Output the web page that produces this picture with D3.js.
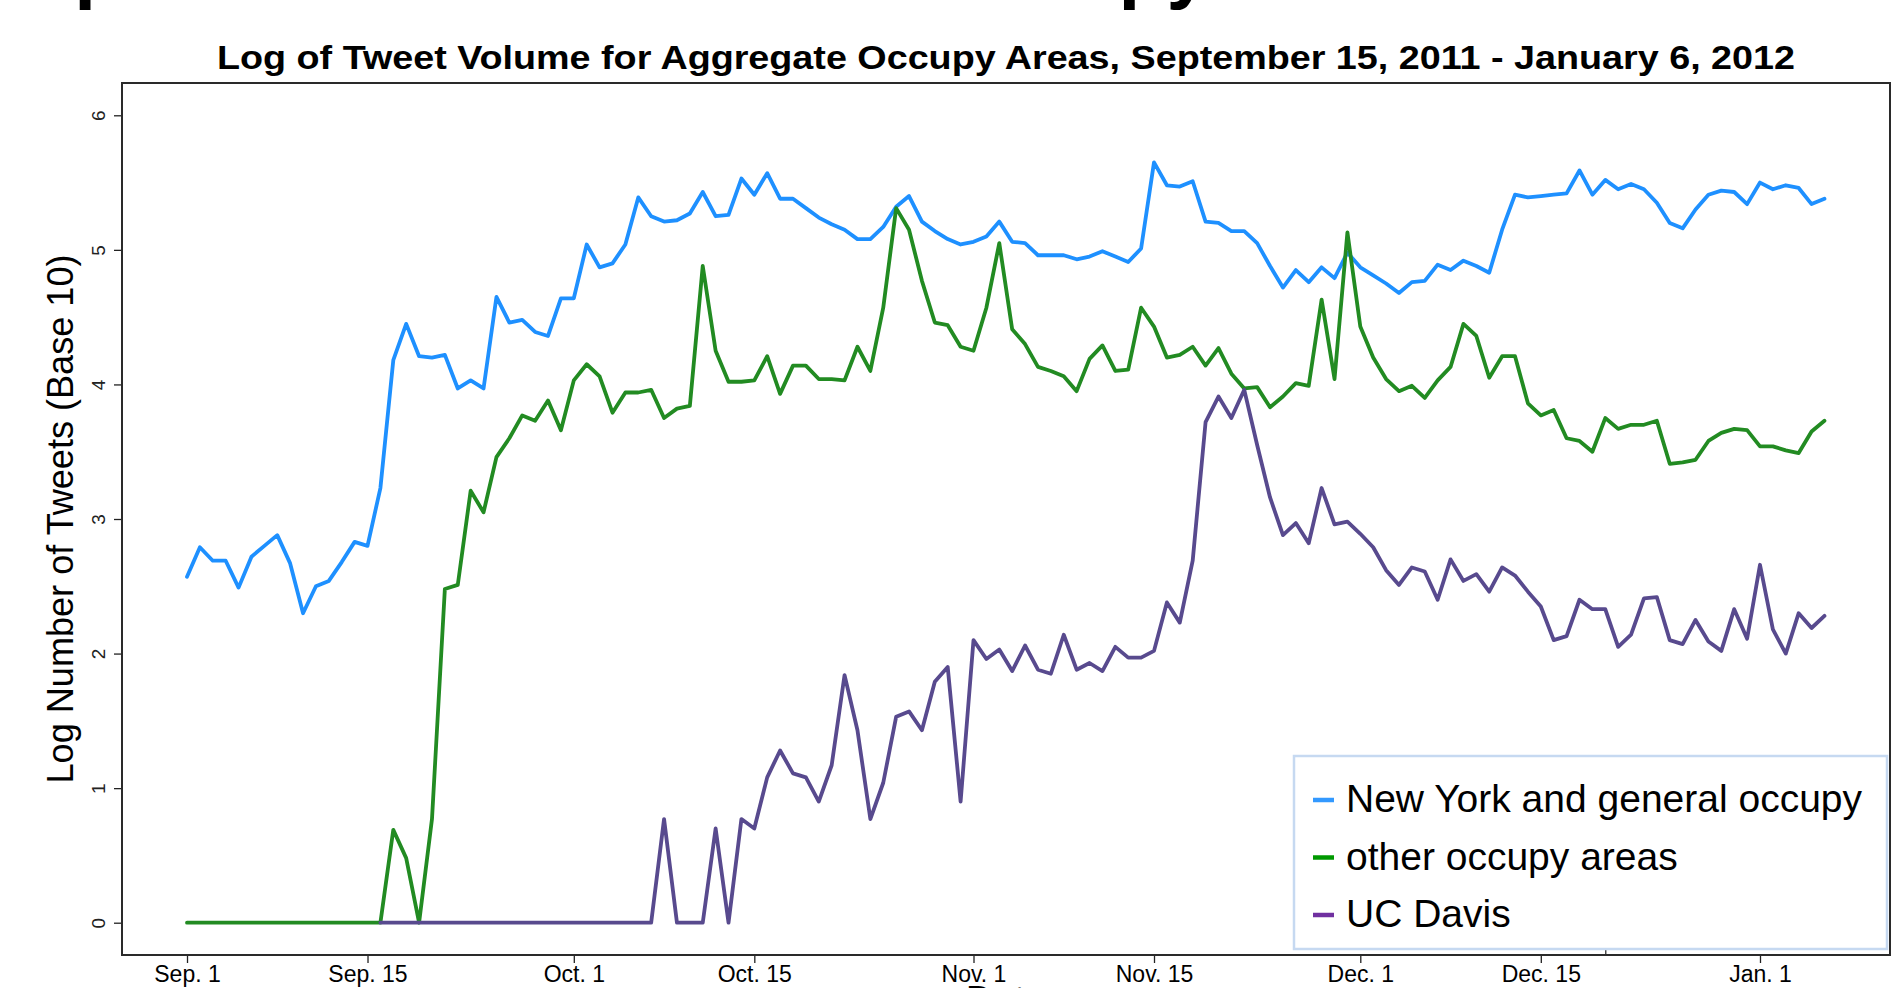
<!DOCTYPE html>
<html>
<head>
<meta charset="utf-8">
<script src="https://cdn.jsdelivr.net/npm/d3@7"></script>
<style>
  body { margin: 0; background: #fff; }
  svg { display: block; font-family: "Liberation Sans", Arial, sans-serif; }
</style>
</head>
<body>
<div id="chart"></div>
<script>

// daily values from Sep. 1, 2011 (log10 of tweet counts)
var firstDay = new Date(Date.UTC(2011, 8, 1));

var newYork = [2.57, 2.79, 2.69, 2.69, 2.49, 2.72, 2.80, 2.88, 2.67, 2.30,
  2.50, 2.54, 2.68, 2.83, 2.80, 3.23, 4.18, 4.45, 4.21, 4.20,
  4.22, 3.97, 4.03, 3.97, 4.65, 4.46, 4.48, 4.39, 4.36, 4.64,
  4.64, 5.04, 4.87, 4.90, 5.04, 5.39, 5.25, 5.21, 5.22, 5.27,
  5.43, 5.25, 5.26, 5.53, 5.41, 5.57, 5.38, 5.38, 5.31, 5.24,
  5.19, 5.15, 5.08, 5.08, 5.17, 5.32, 5.40, 5.21, 5.14, 5.08,
  5.04, 5.06, 5.10, 5.21, 5.06, 5.05, 4.96, 4.96, 4.96, 4.93,
  4.95, 4.99, 4.95, 4.91, 5.01, 5.65, 5.48, 5.47, 5.51, 5.21,
  5.20, 5.14, 5.14, 5.05, 4.88, 4.72, 4.85, 4.76, 4.87, 4.79,
  4.98, 4.87, 4.81, 4.75, 4.68, 4.76, 4.77, 4.89, 4.85, 4.92,
  4.88, 4.83, 5.15, 5.41, 5.39, 5.40, 5.41, 5.42, 5.59, 5.41,
  5.52, 5.45, 5.49, 5.45, 5.35, 5.20, 5.16, 5.30, 5.41, 5.44,
  5.43, 5.34, 5.50, 5.45, 5.48, 5.46, 5.34, 5.38];

var otherAreas = [0, 0, 0, 0, 0, 0, 0, 0, 0, 0,
  0, 0, 0, 0, 0, 0, 0.69, 0.48, 0, 0.77,
  2.48, 2.51, 3.21, 3.05, 3.46, 3.60, 3.77, 3.73, 3.88, 3.66,
  4.03, 4.15, 4.06, 3.79, 3.94, 3.94, 3.96, 3.75, 3.82, 3.84,
  4.88, 4.25, 4.02, 4.02, 4.03, 4.21, 3.93, 4.14, 4.14, 4.04,
  4.04, 4.03, 4.28, 4.10, 4.57, 5.31, 5.15, 4.77, 4.46, 4.44,
  4.28, 4.25, 4.57, 5.05, 4.41, 4.30, 4.13, 4.10, 4.06, 3.95,
  4.19, 4.29, 4.10, 4.11, 4.57, 4.43, 4.20, 4.22, 4.28, 4.14,
  4.27, 4.08, 3.97, 3.98, 3.83, 3.91, 4.01, 3.99, 4.63, 4.04,
  5.13, 4.43, 4.20, 4.04, 3.95, 3.99, 3.90, 4.03, 4.13, 4.45,
  4.36, 4.05, 4.21, 4.21, 3.86, 3.77, 3.81, 3.60, 3.58, 3.50,
  3.75, 3.67, 3.70, 3.70, 3.73, 3.41, 3.42, 3.44, 3.58, 3.64,
  3.67, 3.66, 3.54, 3.54, 3.51, 3.49, 3.65, 3.73];

// UC Davis series begins on Sep. 16
var ucDavisStart = 15;
var ucDavis = [0, 0, 0, 0, 0, 0, 0, 0, 0, 0,
  0, 0, 0, 0, 0, 0, 0, 0, 0, 0,
  0, 0, 0.77, 0, 0, 0, 0.70, 0, 0.77, 0.70,
  1.08, 1.28, 1.11, 1.08, 0.90, 1.17, 1.84, 1.43, 0.77, 1.04,
  1.53, 1.57, 1.43, 1.79, 1.90, 0.90, 2.10, 1.96, 2.03, 1.87,
  2.06, 1.88, 1.85, 2.14, 1.88, 1.93, 1.87, 2.05, 1.97, 1.97,
  2.02, 2.38, 2.23, 2.69, 3.72, 3.91, 3.75, 3.96, 3.55, 3.16,
  2.88, 2.97, 2.82, 3.23, 2.96, 2.98, 2.89, 2.79, 2.62, 2.51,
  2.64, 2.61, 2.40, 2.70, 2.54, 2.59, 2.46, 2.64, 2.58, 2.46,
  2.35, 2.10, 2.13, 2.40, 2.33, 2.33, 2.05, 2.14, 2.41, 2.42,
  2.10, 2.07, 2.25, 2.09, 2.02, 2.33, 2.11, 2.66, 2.18, 2.00,
  2.30, 2.19, 2.28];

var seriesNames = ["New York and general occupy", "other occupy areas", "UC Davis"];
var lineColors = ["#1e90ff", "#228b22", "#584a8e"];
var keyColors = ["#3399ff", "#009900", "#7030a0"];

var xTickDates = [
  new Date(Date.UTC(2011, 8, 1)), new Date(Date.UTC(2011, 8, 15)),
  new Date(Date.UTC(2011, 9, 1)), new Date(Date.UTC(2011, 9, 15)),
  new Date(Date.UTC(2011, 10, 1)), new Date(Date.UTC(2011, 10, 15)),
  new Date(Date.UTC(2011, 11, 1)), new Date(Date.UTC(2011, 11, 15)),
  new Date(Date.UTC(2012, 0, 1))];
var xTickLabels = ["Sep. 1", "Sep. 15", "Oct. 1", "Oct. 15", "Nov. 1", "Nov. 15", "Dec. 1", "Dec. 15", "Jan. 1"];
var yTicks = [0, 1, 2, 3, 4, 5, 6];

var W = 1893, H = 988;
var plot = {left: 122, top: 83, right: 1890, bottom: 955};

var svg = d3.select("#chart").append("svg")
    .attr("width", W)
    .attr("height", H);

var x = d3.scaleUtc()
    .domain([d3.utcHour.offset(firstDay, -121), d3.utcHour.offset(firstDay, 132 * 24 + 2)])
    .range([plot.left, plot.right]);

var y = d3.scaleLinear()
    .domain([-0.24, 6.24])
    .range([plot.bottom, plot.top]);

function toPoints(values, offset) {
  return values.map(function(v, i) {
    return {date: d3.utcDay.offset(firstDay, i + offset), value: v};
  });
}

var series = [toPoints(newYork, 0), toPoints(otherAreas, 0), toPoints(ucDavis, ucDavisStart)];

// cut off heading above the chart
svg.append("text")
    .attr("x", 22)
    .attr("y", -7)
    .attr("font-size", 80)
    .attr("font-weight", "bold")
    .attr("textLength", 1188)
    .attr("lengthAdjust", "spacingAndGlyphs")
    .text("Spread of Tweets about Occupy");

svg.append("text")
    .attr("x", (plot.left + plot.right) / 2)
    .attr("y", 69)
    .attr("text-anchor", "middle")
    .attr("font-size", 34)
    .attr("font-weight", "bold")
    .attr("textLength", 1578)
    .attr("lengthAdjust", "spacingAndGlyphs")
    .text("Log of Tweet Volume for Aggregate Occupy Areas, September 15, 2011 - January 6, 2012");

// axes
var yAxis = svg.append("g")
    .attr("transform", "translate(" + plot.left + ",0)")
    .call(d3.axisLeft(y).tickValues(yTicks).tickSize(8).tickFormat(d3.format("d")));
yAxis.select(".domain").remove();
yAxis.selectAll(".tick line").attr("stroke", "#222").attr("stroke-width", 1.3);
yAxis.selectAll(".tick text")
    .attr("transform", "rotate(-90)")
    .attr("x", 0)
    .attr("y", -17)
    .attr("dy", 0)
    .attr("text-anchor", "middle")
    .attr("font-size", 19)
    .attr("font-family", "Liberation Sans, Arial, sans-serif")
    .attr("fill", "#222");

var xAxis = svg.append("g")
    .attr("transform", "translate(0," + plot.bottom + ")")
    .call(d3.axisBottom(x).tickValues(xTickDates).tickSize(8)
      .tickFormat(function(d, i) { return xTickLabels[i]; }));
xAxis.select(".domain").remove();
xAxis.selectAll(".tick line").attr("stroke", "#222").attr("stroke-width", 1.3);
xAxis.selectAll(".tick text")
    .attr("y", 11)
    .attr("font-size", 23)
    .attr("font-family", "Liberation Sans, Arial, sans-serif")
    .attr("fill", "#000");

// stray upward tick under the key
var stray = svg.append("g")
    .attr("transform", "translate(0," + plot.bottom + ")")
    .call(d3.axisBottom(x).tickValues([new Date(Date.UTC(2011, 11, 20))]).tickSize(-5).tickFormat(""));
stray.select(".domain").remove();
stray.selectAll(".tick line").attr("stroke", "#333").attr("stroke-width", 1.3);

svg.append("text")
    .attr("x", (plot.left + plot.right) / 2)
    .attr("y", 1013)
    .attr("text-anchor", "middle")
    .attr("font-size", 38)
    .text("Date");

svg.append("text")
    .attr("transform", "translate(73," + ((plot.top + plot.bottom) / 2) + ") rotate(-90)")
    .attr("text-anchor", "middle")
    .attr("font-size", 36)
    .attr("textLength", 529)
    .attr("lengthAdjust", "spacingAndGlyphs")
    .text("Log Number of Tweets (Base 10)");

// lines
var line = d3.line()
    .x(function(d) { return x(d.date); })
    .y(function(d) { return y(d.value); });

svg.append("g").selectAll("path")
    .data(series)
    .enter()
    .append("path")
    .attr("d", line)
    .attr("fill", "none")
    .attr("stroke", function(d, i) { return lineColors[i]; })
    .attr("stroke-width", 3.8)
    .attr("stroke-linejoin", "round")
    .attr("stroke-linecap", "round");

// plot frame
svg.append("rect")
    .attr("x", plot.left)
    .attr("y", plot.top)
    .attr("width", plot.right - plot.left)
    .attr("height", plot.bottom - plot.top)
    .attr("fill", "none")
    .attr("stroke", "#2a2a2a")
    .attr("stroke-width", 2);

// key
var key = svg.append("g");
key.append("rect")
    .attr("x", 1294)
    .attr("y", 756)
    .attr("width", 593)
    .attr("height", 193)
    .attr("fill", "#fff")
    .attr("stroke", "#c6d9f1")
    .attr("stroke-width", 2.5);

var rows = key.selectAll("g.row")
    .data(seriesNames)
    .enter()
    .append("g")
    .attr("class", "row")
    .attr("transform", function(d, i) { return "translate(0," + (800 + i * 57.5) + ")"; })
    .each(function(d, i) {
      var self = d3.select(this);
      self.append("line")
          .attr("x1", 1313).attr("x2", 1334)
          .attr("y1", 0).attr("y2", 0)
          .attr("stroke", keyColors[i])
          .attr("stroke-width", 4.5);
      self.append("text")
          .attr("x", 1346)
          .attr("y", 12)
          .attr("font-size", 39)
          .text(d);
    });

</script>
</body>
</html>
